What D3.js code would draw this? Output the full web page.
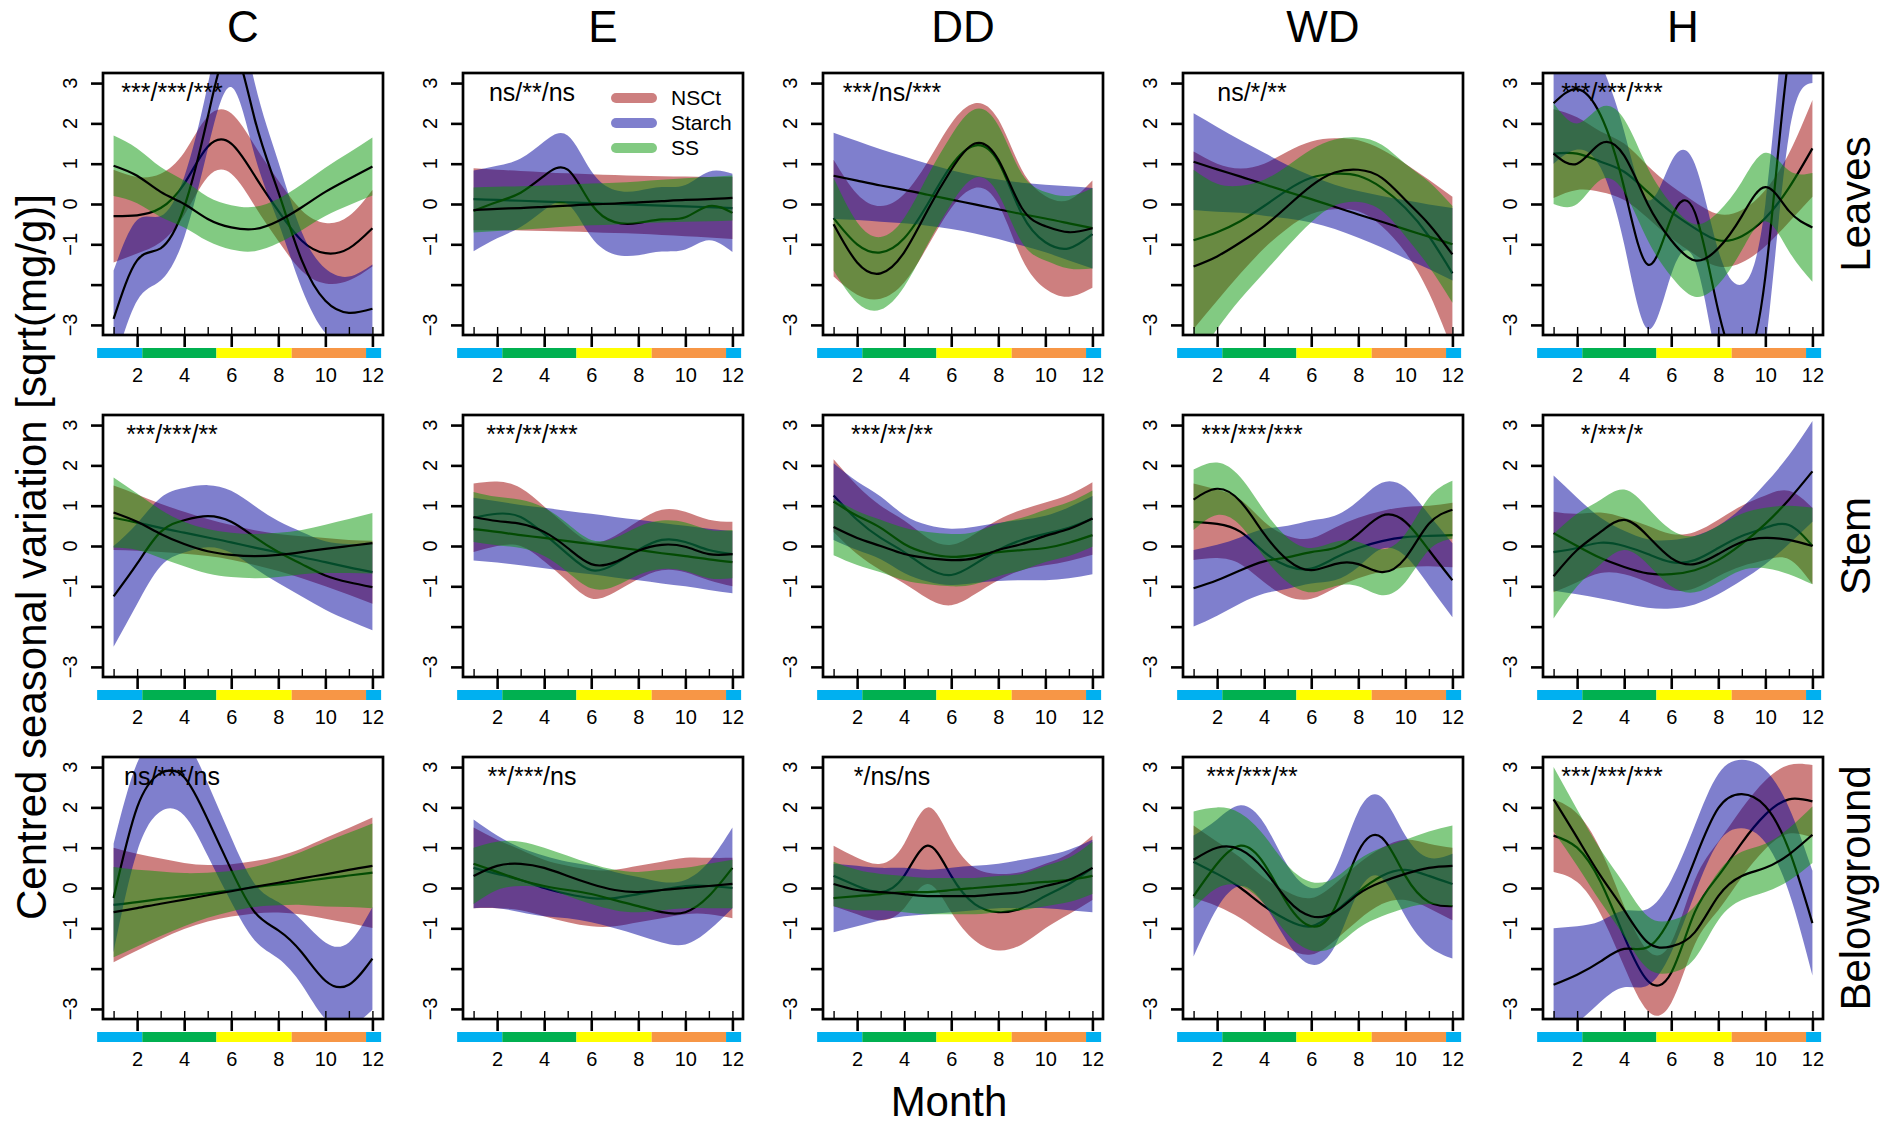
<!DOCTYPE html>
<html>
<head>
<meta charset="utf-8">
<script src="https://cdn.jsdelivr.net/npm/d3@7"></script>
<style>
  body { margin: 0; background: #fff; }
  svg { display: block; }
  text { font-family: "Liberation Sans", Arial, sans-serif; fill: #000; }
</style>
</head>
<body>
<svg id="chart" width="1882" height="1129"></svg>
<script>
// ---------------- data ----------------
const months = [1, 2, 3, 4, 5, 6, 7, 8, 9, 10, 11, 12];
const sites = ["C", "E", "DD", "WD", "H"];
const organs = ["Leaves", "Stem", "Belowground"];
const seriesNames = ["NSCt", "Starch", "SS"];

const yTickValues = [-3, -2, -1, 0, 1, 2, 3];
const yTickLabels = ["\u22123", "", "\u22121", "0", "1", "2", "3"];
const xMajorTicks = [2, 4, 6, 8, 10, 12];
const xTickLabels = ["2", "4", "6", "8", "10", "12"];

// season strip under each panel (month boundaries)
const seasonBreaks = [0.3, 2.22, 5.37, 8.57, 11.73, 12.37];

// significance of the seasonal term: NSCt / Starch / SS
const leavesSig = ["***/***/***", "ns/**/ns", "***/ns/***", "ns/*/**", "***/***/***"];
const stemSig = ["***/***/**", "***/**/***", "***/**/**", "***/***/***", "*/***/*"];
const belowSig = ["ns/***/ns", "**/***/ns", "*/ns/ns", "***/***/**", "***/***/***"];

// fitted seasonal curves (fit) and half-width of their confidence bands (ci)
// --- Leaves ---
const leavesC_NSCt = [-0.3, -0.28, -0.1, 0.5, 1.42, 1.5, 0.7, -0.17, -0.91, -1.22, -1.1, -0.6];
const leavesC_NSCt_ci = [1.15, 0.95, 0.85, 0.78, 0.75, 0.75, 0.75, 0.75, 0.75, 0.75, 0.8, 0.95];
const leavesC_Starch = [-2.85, -1.4, -1.1, -0.08, 2.15, 3.9, 2.1, 0.3, -1.4, -2.4, -2.7, -2.6];
const leavesC_Starch_ci = [1.2, 1.0, 0.8, 0.75, 0.8, 1.0, 0.9, 0.75, 0.7, 0.8, 0.9, 1.1];
const leavesC_SS = [0.95, 0.7, 0.3, 0.0, -0.37, -0.58, -0.62, -0.42, -0.08, 0.3, 0.62, 0.93];
const leavesC_SS_ci = [0.75, 0.68, 0.62, 0.58, 0.55, 0.55, 0.55, 0.55, 0.57, 0.6, 0.65, 0.72];

const leavesE_NSCt = [0.12, 0.1, 0.08, 0.06, 0.04, 0.02, 0.0, -0.02, -0.04, -0.06, -0.08, -0.1];
const leavesE_NSCt_ci = [0.77, 0.75, 0.74, 0.73, 0.72, 0.72, 0.72, 0.72, 0.73, 0.74, 0.75, 0.77];
const leavesE_Starch = [-0.17, 0.05, 0.28, 0.7, 0.85, 0.0, -0.45, -0.47, -0.38, -0.33, -0.05, -0.22];
const leavesE_Starch_ci = [1.0, 0.9, 0.85, 0.85, 0.85, 0.82, 0.8, 0.8, 0.8, 0.8, 0.85, 0.97];
const leavesE_SS = [-0.15, -0.12, -0.1, -0.07, -0.04, -0.01, 0.01, 0.04, 0.07, 0.1, 0.12, 0.15];
const leavesE_SS_ci = [0.56, 0.55, 0.54, 0.53, 0.52, 0.52, 0.52, 0.52, 0.53, 0.54, 0.55, 0.56];

const leavesDD_NSCt = [-0.35, -1.0, -1.2, -0.85, 0.0, 0.95, 1.45, 1.05, -0.25, -0.95, -1.1, -0.75];
const leavesDD_NSCt_ci = [1.45, 1.25, 1.15, 1.1, 1.05, 1.05, 1.05, 1.05, 1.1, 1.15, 1.2, 1.33];
const leavesDD_Starch = [0.7, 0.58, 0.46, 0.35, 0.23, 0.11, -0.01, -0.13, -0.25, -0.36, -0.48, -0.6];
const leavesDD_Starch_ci = [1.07, 0.98, 0.9, 0.83, 0.77, 0.73, 0.72, 0.74, 0.78, 0.84, 0.92, 1.0];
const leavesDD_SS = [-0.5, -1.45, -1.72, -1.2, -0.15, 0.85, 1.5, 1.1, -0.1, -0.55, -0.7, -0.6];
const leavesDD_SS_ci = [1.15, 1.0, 0.9, 0.85, 0.85, 0.85, 0.85, 0.85, 0.85, 0.85, 0.9, 1.0];

const leavesWD_NSCt = [-0.9, -0.7, -0.42, -0.05, 0.35, 0.65, 0.75, 0.7, 0.4, -0.1, -0.8, -1.72];
const leavesWD_NSCt_ci = [2.2, 1.7, 1.3, 1.05, 0.95, 0.9, 0.88, 0.88, 0.95, 1.1, 1.4, 1.9];
const leavesWD_Starch = [1.05, 0.86, 0.68, 0.49, 0.3, 0.12, -0.07, -0.26, -0.44, -0.63, -0.81, -1.0];
const leavesWD_Starch_ci = [1.2, 1.05, 0.9, 0.78, 0.66, 0.58, 0.55, 0.58, 0.64, 0.72, 0.8, 0.9];
const leavesWD_SS = [-1.55, -1.3, -0.95, -0.55, -0.05, 0.45, 0.78, 0.85, 0.65, 0.1, -0.5, -1.25];
const leavesWD_SS_ci = [2.4, 1.8, 1.4, 1.15, 1.0, 0.9, 0.82, 0.8, 0.82, 0.9, 1.05, 1.2];

const leavesH_NSCt = [1.25, 1.25, 1.05, 0.8, 0.3, -0.2, -0.6, -0.9, -0.8, -0.35, 0.4, 1.38];
const leavesH_NSCt_ci = [1.1, 0.9, 0.75, 0.7, 0.65, 0.65, 0.65, 0.65, 0.65, 0.7, 0.85, 1.2];
const leavesH_Starch = [2.5, 2.85, 2.2, 0.4, -1.5, -0.35, -0.2, -2.65, -4.0, -1.8, 3.7, 5.5];
const leavesH_Starch_ci = [1.5, 1.5, 1.3, 1.4, 1.6, 1.4, 1.2, 1.5, 2.0, 1.8, 2.0, 2.5];
const leavesH_SS = [1.25, 1.0, 1.5, 1.2, 0.0, -0.9, -1.4, -1.1, -0.3, 0.42, -0.17, -0.58];
const leavesH_SS_ci = [1.25, 1.0, 0.9, 0.9, 0.9, 0.9, 0.9, 0.9, 0.85, 0.85, 1.0, 1.35];

// --- Stem ---
const stemC_NSCt = [0.7, 0.58, 0.45, 0.33, 0.21, 0.09, -0.04, -0.16, -0.28, -0.4, -0.53, -0.65];
const stemC_NSCt_ci = [0.8, 0.7, 0.6, 0.52, 0.46, 0.43, 0.43, 0.46, 0.52, 0.6, 0.68, 0.78];
const stemC_Starch = [-1.25, -0.44, 0.35, 0.64, 0.74, 0.6, 0.22, -0.15, -0.45, -0.73, -0.9, -1.02];
const stemC_Starch_ci = [1.25, 1.0, 0.85, 0.8, 0.77, 0.77, 0.77, 0.77, 0.8, 0.85, 0.95, 1.07];
const stemC_SS = [0.83, 0.6, 0.3, 0.05, -0.13, -0.22, -0.25, -0.22, -0.15, -0.07, 0.0, 0.07];
const stemC_SS_ci = [0.87, 0.7, 0.6, 0.55, 0.55, 0.55, 0.55, 0.55, 0.55, 0.6, 0.67, 0.75];

const stemE_NSCt = [0.7, 0.8, 0.72, 0.3, -0.2, -0.6, -0.45, -0.1, 0.15, 0.1, -0.1, -0.2];
const stemE_NSCt_ci = [0.85, 0.8, 0.72, 0.68, 0.68, 0.7, 0.7, 0.72, 0.75, 0.75, 0.75, 0.8];
const stemE_Starch = [0.42, 0.35, 0.27, 0.2, 0.12, 0.05, -0.03, -0.1, -0.18, -0.25, -0.33, -0.4];
const stemE_Starch_ci = [0.78, 0.76, 0.75, 0.75, 0.75, 0.75, 0.75, 0.75, 0.75, 0.75, 0.76, 0.77];
const stemE_SS = [0.72, 0.62, 0.55, 0.35, -0.05, -0.45, -0.4, -0.12, 0.03, -0.02, -0.2, -0.2];
const stemE_SS_ci = [0.62, 0.6, 0.6, 0.6, 0.6, 0.6, 0.6, 0.6, 0.6, 0.6, 0.6, 0.6];

const stemDD_NSCt = [1.25, 0.65, 0.2, -0.15, -0.55, -0.72, -0.45, -0.1, 0.15, 0.3, 0.45, 0.68];
const stemDD_NSCt_ci = [0.9, 0.85, 0.8, 0.78, 0.75, 0.75, 0.75, 0.75, 0.75, 0.78, 0.82, 0.9];
const stemDD_Starch = [1.1, 0.75, 0.45, 0.05, -0.18, -0.27, -0.22, -0.15, -0.1, -0.05, 0.08, 0.27];
const stemDD_Starch_ci = [0.95, 0.85, 0.78, 0.72, 0.7, 0.7, 0.7, 0.72, 0.75, 0.8, 0.88, 0.97];
const stemDD_SS = [0.47, 0.2, 0.0, -0.2, -0.3, -0.35, -0.3, -0.1, 0.05, 0.25, 0.42, 0.68];
const stemDD_SS_ci = [0.7, 0.67, 0.65, 0.65, 0.65, 0.65, 0.65, 0.65, 0.65, 0.65, 0.67, 0.7];

const stemWD_NSCt = [0.6, 0.55, 0.35, -0.15, -0.5, -0.56, -0.3, -0.05, 0.12, 0.22, 0.25, 0.27];
const stemWD_NSCt_ci = [0.95, 0.85, 0.8, 0.75, 0.75, 0.75, 0.75, 0.75, 0.75, 0.75, 0.75, 0.8];
const stemWD_Starch = [-1.05, -0.85, -0.6, -0.38, -0.28, -0.15, -0.05, 0.3, 0.75, 0.6, -0.1, -0.85];
const stemWD_Starch_ci = [0.95, 0.88, 0.82, 0.8, 0.78, 0.78, 0.8, 0.82, 0.82, 0.85, 0.88, 0.92];
const stemWD_SS = [1.15, 1.42, 1.1, 0.3, -0.35, -0.6, -0.45, -0.45, -0.65, -0.3, 0.55, 0.9];
const stemWD_SS_ci = [0.75, 0.65, 0.6, 0.58, 0.55, 0.55, 0.55, 0.55, 0.57, 0.6, 0.65, 0.72];

const stemH_NSCt = [-0.15, -0.05, 0.08, 0.0, -0.2, -0.4, -0.35, -0.05, 0.25, 0.45, 0.52, 0.0];
const stemH_NSCt_ci = [1.0, 0.85, 0.75, 0.7, 0.7, 0.7, 0.7, 0.7, 0.75, 0.8, 0.85, 0.95];
const stemH_Starch = [0.32, 0.0, -0.3, -0.52, -0.68, -0.7, -0.6, -0.35, 0.05, 0.55, 1.15, 1.85];
const stemH_Starch_ci = [1.43, 1.2, 1.0, 0.9, 0.85, 0.85, 0.85, 0.85, 0.9, 1.0, 1.1, 1.25];
const stemH_SS = [-0.75, -0.1, 0.35, 0.65, 0.25, -0.3, -0.45, -0.2, 0.1, 0.2, 0.15, 0.0];
const stemH_SS_ci = [1.05, 0.9, 0.8, 0.75, 0.7, 0.7, 0.7, 0.7, 0.7, 0.75, 0.85, 0.95];

// --- Belowground ---
const belowC_NSCt = [-0.42, -0.35, -0.27, -0.2, -0.13, -0.06, 0.02, 0.09, 0.16, 0.24, 0.31, 0.38];
const belowC_NSCt_ci = [1.42, 1.2, 1.0, 0.82, 0.7, 0.65, 0.65, 0.7, 0.82, 1.0, 1.18, 1.37];
const belowC_Starch = [-0.25, 2.0, 2.85, 2.75, 1.7, 0.45, -0.6, -1.05, -1.6, -2.3, -2.4, -1.75];
const belowC_Starch_ci = [1.35, 1.1, 0.95, 0.95, 0.9, 0.8, 0.7, 0.7, 0.8, 0.95, 1.05, 1.27];
const belowC_SS = [-0.6, -0.5, -0.39, -0.29, -0.18, -0.08, 0.03, 0.13, 0.24, 0.34, 0.45, 0.55];
const belowC_SS_ci = [1.12, 0.95, 0.8, 0.66, 0.56, 0.5, 0.5, 0.56, 0.66, 0.8, 0.92, 1.05];

const belowE_NSCt = [0.5, 0.35, 0.2, 0.0, -0.15, -0.25, -0.25, -0.15, -0.05, 0.05, 0.05, 0.0];
const belowE_NSCt_ci = [1.0, 0.85, 0.75, 0.7, 0.7, 0.7, 0.7, 0.7, 0.7, 0.7, 0.7, 0.75];
const belowE_Starch = [0.6, 0.4, 0.2, 0.05, -0.05, -0.15, -0.3, -0.45, -0.6, -0.6, -0.2, 0.5];
const belowE_Starch_ci = [1.1, 0.9, 0.8, 0.75, 0.7, 0.7, 0.7, 0.72, 0.75, 0.8, 0.85, 1.0];
const belowE_SS = [0.3, 0.55, 0.6, 0.5, 0.3, 0.1, -0.05, -0.1, -0.05, 0.0, 0.05, 0.1];
const belowE_SS_ci = [0.7, 0.6, 0.55, 0.5, 0.5, 0.5, 0.5, 0.5, 0.5, 0.5, 0.55, 0.6];

const belowDD_NSCt = [0.3, 0.05, -0.1, 0.3, 1.05, 0.3, -0.4, -0.6, -0.5, -0.2, 0.1, 0.5];
const belowDD_NSCt_ci = [0.75, 0.7, 0.7, 0.8, 0.95, 0.9, 0.9, 0.95, 0.9, 0.8, 0.75, 0.8];
const belowDD_Starch = [-0.25, -0.2, -0.15, -0.1, -0.1, -0.05, 0.0, 0.05, 0.1, 0.15, 0.2, 0.3];
const belowDD_Starch_ci = [0.85, 0.75, 0.65, 0.6, 0.55, 0.55, 0.55, 0.55, 0.6, 0.65, 0.75, 0.9];
const belowDD_SS = [0.1, -0.05, -0.1, -0.15, -0.2, -0.2, -0.2, -0.15, -0.1, 0.05, 0.2, 0.5];
const belowDD_SS_ci = [0.55, 0.5, 0.45, 0.45, 0.45, 0.45, 0.45, 0.45, 0.45, 0.5, 0.55, 0.65];

const belowWD_NSCt = [0.65, 0.35, 0.0, -0.45, -0.8, -0.95, -0.6, -0.1, 0.3, 0.45, 0.3, 0.1];
const belowWD_NSCt_ci = [0.9, 0.8, 0.75, 0.7, 0.7, 0.7, 0.7, 0.7, 0.7, 0.75, 0.8, 0.9];
const belowWD_Starch = [-0.2, 0.6, 1.05, 0.6, -0.4, -0.95, -0.5, 0.9, 1.25, 0.3, -0.35, -0.45];
const belowWD_Starch_ci = [1.5, 1.1, 1.0, 1.0, 0.95, 0.95, 0.95, 1.0, 1.0, 1.0, 1.1, 1.3];
const belowWD_SS = [0.7, 1.0, 0.95, 0.45, -0.3, -0.7, -0.6, -0.15, 0.15, 0.35, 0.5, 0.55];
const belowWD_SS_ci = [1.2, 1.0, 0.9, 0.85, 0.85, 0.85, 0.85, 0.85, 0.85, 0.85, 0.9, 1.0];

const belowH_NSCt = [1.3, 1.0, 0.15, -1.2, -2.3, -2.1, -0.6, 0.3, 1.12, 1.82, 2.2, 2.15];
const belowH_NSCt_ci = [0.9, 0.85, 0.8, 0.75, 0.75, 0.75, 0.8, 0.85, 0.85, 0.85, 0.85, 0.9];
const belowH_Starch = [-2.4, -2.15, -1.82, -1.51, -1.47, -0.7, 0.7, 1.98, 2.33, 2.03, 0.95, -0.87];
const belowH_Starch_ci = [1.4, 1.2, 1.0, 0.95, 0.95, 0.9, 0.85, 0.85, 0.85, 0.9, 1.05, 1.3];
const belowH_SS = [2.2, 1.25, 0.3, -0.55, -1.35, -1.45, -1.1, -0.2, 0.3, 0.5, 0.83, 1.32];
const belowH_SS_ci = [0.8, 0.7, 0.65, 0.65, 0.65, 0.65, 0.65, 0.6, 0.6, 0.6, 0.65, 0.7];

// lookup: organ -> site -> series -> [fit, ci]
const panelData = {
  Leaves: {
    C:  { NSCt: [leavesC_NSCt, leavesC_NSCt_ci], Starch: [leavesC_Starch, leavesC_Starch_ci], SS: [leavesC_SS, leavesC_SS_ci] },
    E:  { NSCt: [leavesE_NSCt, leavesE_NSCt_ci], Starch: [leavesE_Starch, leavesE_Starch_ci], SS: [leavesE_SS, leavesE_SS_ci] },
    DD: { NSCt: [leavesDD_NSCt, leavesDD_NSCt_ci], Starch: [leavesDD_Starch, leavesDD_Starch_ci], SS: [leavesDD_SS, leavesDD_SS_ci] },
    WD: { NSCt: [leavesWD_NSCt, leavesWD_NSCt_ci], Starch: [leavesWD_Starch, leavesWD_Starch_ci], SS: [leavesWD_SS, leavesWD_SS_ci] },
    H:  { NSCt: [leavesH_NSCt, leavesH_NSCt_ci], Starch: [leavesH_Starch, leavesH_Starch_ci], SS: [leavesH_SS, leavesH_SS_ci] }
  },
  Stem: {
    C:  { NSCt: [stemC_NSCt, stemC_NSCt_ci], Starch: [stemC_Starch, stemC_Starch_ci], SS: [stemC_SS, stemC_SS_ci] },
    E:  { NSCt: [stemE_NSCt, stemE_NSCt_ci], Starch: [stemE_Starch, stemE_Starch_ci], SS: [stemE_SS, stemE_SS_ci] },
    DD: { NSCt: [stemDD_NSCt, stemDD_NSCt_ci], Starch: [stemDD_Starch, stemDD_Starch_ci], SS: [stemDD_SS, stemDD_SS_ci] },
    WD: { NSCt: [stemWD_NSCt, stemWD_NSCt_ci], Starch: [stemWD_Starch, stemWD_Starch_ci], SS: [stemWD_SS, stemWD_SS_ci] },
    H:  { NSCt: [stemH_NSCt, stemH_NSCt_ci], Starch: [stemH_Starch, stemH_Starch_ci], SS: [stemH_SS, stemH_SS_ci] }
  },
  Belowground: {
    C:  { NSCt: [belowC_NSCt, belowC_NSCt_ci], Starch: [belowC_Starch, belowC_Starch_ci], SS: [belowC_SS, belowC_SS_ci] },
    E:  { NSCt: [belowE_NSCt, belowE_NSCt_ci], Starch: [belowE_Starch, belowE_Starch_ci], SS: [belowE_SS, belowE_SS_ci] },
    DD: { NSCt: [belowDD_NSCt, belowDD_NSCt_ci], Starch: [belowDD_Starch, belowDD_Starch_ci], SS: [belowDD_SS, belowDD_SS_ci] },
    WD: { NSCt: [belowWD_NSCt, belowWD_NSCt_ci], Starch: [belowWD_Starch, belowWD_Starch_ci], SS: [belowWD_SS, belowWD_SS_ci] },
    H:  { NSCt: [belowH_NSCt, belowH_NSCt_ci], Starch: [belowH_Starch, belowH_Starch_ci], SS: [belowH_SS, belowH_SS_ci] }
  }
};
const panelSig = { Leaves: leavesSig, Stem: stemSig, Belowground: belowSig };

// ---------------- layout & style ----------------
const seriesFill = ["rgba(155,0,0,0.5)", "rgba(0,0,155,0.5)", "rgba(5,150,5,0.5)"];
const seasonColors = ["#00B0F0", "#00B050", "#FFFF00", "#F79646", "#00B0F0"];
const boxW = 280, boxH = 262;
const colLeft = sites.map((s, i) => 103 + i * 360);
const rowTop = organs.map((o, i) => 73 + i * 342);

const svg = d3.select("#chart");
svg.append("rect").attr("width", 1882).attr("height", 1129).attr("fill", "#fff");
const defs = svg.append("defs");

organs.forEach((organ, r) => {
  sites.forEach((site, c) => {
    const x0 = colLeft[c], y0 = rowTop[r];
    const x = d3.scaleLinear().domain([0.55, 12.45]).range([x0, x0 + boxW]);
    const y = d3.scaleLinear().domain([-3.25, 3.25]).range([y0 + boxH, y0]);
    const g = svg.append("g").attr("class", `panel ${organ}-${site}`);

    const clipId = `clip-${r}-${c}`;
    defs.append("clipPath").attr("id", clipId)
      .append("rect").attr("x", x0).attr("y", y0).attr("width", boxW).attr("height", boxH);
    const plot = g.append("g").attr("clip-path", `url(#${clipId})`);

    // bands and fitted lines, one series after another
    seriesNames.forEach((s, k) => {
      const [fit, ci] = panelData[organ][site][s];
      const pts = months.map((m, i) => ({ m, f: fit[i], lo: fit[i] - ci[i], hi: fit[i] + ci[i] }));
      plot.append("path").datum(pts)
        .attr("d", d3.area().x(d => x(d.m)).y0(d => y(d.lo)).y1(d => y(d.hi)).curve(d3.curveNatural))
        .attr("fill", seriesFill[k]).attr("stroke", "none");
      plot.append("path").datum(pts)
        .attr("d", d3.line().x(d => x(d.m)).y(d => y(d.f)).curve(d3.curveNatural))
        .attr("fill", "none").attr("stroke", "#000").attr("stroke-width", 2.2);
    });

    // season strip
    g.append("g").selectAll("rect")
      .data(seasonColors)
      .join("rect")
      .attr("x", (d, i) => x(seasonBreaks[i]))
      .attr("width", (d, i) => x(seasonBreaks[i + 1]) - x(seasonBreaks[i]))
      .attr("y", y0 + boxH + 13).attr("height", 10)
      .attr("fill", d => d);

    // y axis (ticks outward, labels rotated)
    const yAxis = g.append("g").attr("transform", `translate(${x0},0)`)
      .call(d3.axisLeft(y).tickValues(yTickValues).tickSize(12).tickFormat(""));
    yAxis.select(".domain").remove();
    yAxis.selectAll(".tick line").attr("stroke", "#000").attr("stroke-width", 2.6);
    g.append("g").selectAll("text")
      .data(yTickValues.map((v, i) => ({ v, label: yTickLabels[i] })).filter(d => d.label !== ""))
      .join("text")
      .attr("transform", d => `translate(${x0 - 26},${y(d.v)}) rotate(-90)`)
      .attr("text-anchor", "middle")
      .attr("font-size", 20)
      .text(d => d.label);

    // x axis: major ticks outward with labels, minor monthly ticks inward
    const xAxis = g.append("g").attr("transform", `translate(0,${y0 + boxH})`)
      .call(d3.axisBottom(x).tickValues(xMajorTicks).tickSize(12).tickPadding(21)
        .tickFormat((d, i) => xTickLabels[i]));
    xAxis.select(".domain").remove();
    xAxis.selectAll(".tick line").attr("stroke", "#000").attr("stroke-width", 2.6);
    xAxis.selectAll(".tick text").attr("font-size", 20).attr("fill", "#000")
      .attr("font-family", "'Liberation Sans', Arial, sans-serif");
    const xMinor = g.append("g").attr("transform", `translate(0,${y0 + boxH})`)
      .call(d3.axisTop(x).tickValues(months).tickSize(8).tickFormat(""));
    xMinor.select(".domain").remove();
    xMinor.selectAll(".tick line").attr("stroke", "#000").attr("stroke-width", 1.4);

    // frame
    g.append("rect").attr("x", x0).attr("y", y0).attr("width", boxW).attr("height", boxH)
      .attr("fill", "none").attr("stroke", "#000").attr("stroke-width", 2.7);

    // significance label
    g.append("text")
      .attr("x", x0 + 69).attr("y", y0 + 28)
      .attr("text-anchor", "middle")
      .attr("font-size", 25)
      .text(panelSig[organ][c]);

    // legend in the E leaves panel
    if (r === 0 && site === "E") {
      const lg = g.append("g");
      seriesNames.forEach((s, k) => {
        const ly = y0 + 25 + k * 25;
        lg.append("line")
          .attr("x1", x0 + 153).attr("x2", x0 + 189).attr("y1", ly).attr("y2", ly)
          .attr("stroke", seriesFill[k]).attr("stroke-width", 10).attr("stroke-linecap", "round");
        lg.append("text").attr("x", x0 + 208).attr("y", ly + 7)
          .attr("font-size", 21).text(s);
      });
    }
  });
});

// column titles
svg.append("g").selectAll("text").data(sites).join("text")
  .attr("x", (d, i) => colLeft[i] + boxW / 2).attr("y", 42)
  .attr("text-anchor", "middle").attr("font-size", 44).text(d => d);

// row titles
svg.append("g").selectAll("text").data(organs).join("text")
  .attr("transform", (d, i) => `translate(1870,${rowTop[i] + boxH / 2}) rotate(-90)`)
  .attr("text-anchor", "middle").attr("font-size", 42).text(d => d);

// axis titles
svg.append("text").attr("x", 949).attr("y", 1116).attr("text-anchor", "middle")
  .attr("font-size", 42).text("Month");
svg.append("text").attr("transform", "translate(46,557) rotate(-90)")
  .attr("text-anchor", "middle").attr("font-size", 42)
  .text("Centred seasonal variation [sqrt(mg/g)]");
</script>
</body>
</html>
